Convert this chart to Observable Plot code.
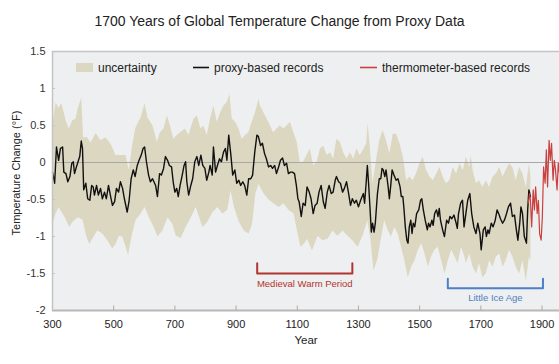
<!DOCTYPE html>
<html><head><meta charset="utf-8">
<script src="https://cdn.jsdelivr.net/npm/d3@7"></script>
<script src="https://cdn.jsdelivr.net/npm/@observablehq/plot@0.6"></script>
<style>
body{margin:0;background:#fff;font-family:"Liberation Sans",Arial,sans-serif;}
#title{height:27px;padding-top:13px;line-height:16px;text-align:center;font-size:14px;color:#222;box-sizing:content-box;}
#chart svg{display:block;}
</style></head><body>
<div id="title">1700 Years of Global Temperature Change from Proxy Data</div>
<div id="chart"></div>
<script>
const xTicks = [300, 500, 700, 900, 1100, 1300, 1500, 1700, 1900];
const yTicks = [1.5, 1, 0.5, 0, -0.5, -1, -1.5, -2];

const proxyYears = [300,307,313,320,326,333,337,344,350,357,363,368,372,378,385,389,394,398,402,409,415,422,428,433,437,444,450,457,463,470,476,483,490,496,503,509,516,522,529,535,544,550,557,564,570,577,583,590,596,601,607,614,620,627,637,643,650,656,663,669,676,682,689,695,700,706,711,717,724,730,735,739,745,752,758,765,772,778,785,791,798,804,811,815,822,826,833,839,846,852,859,865,870,876,883,889,896,902,909,915,922,928,935,941,948,954,961,968,973,980,986,993,999,1006,1013,1019,1026,1032,1039,1045,1052,1058,1065,1071,1078,1084,1091,1097,1102,1106,1113,1119,1126,1132,1139,1145,1152,1158,1165,1171,1178,1185,1191,1198,1204,1211,1217,1224,1228,1235,1241,1248,1254,1261,1267,1274,1280,1287,1293,1300,1307,1312,1316,1320,1325,1329,1333,1338,1342,1346,1351,1355,1362,1368,1373,1377,1381,1386,1390,1397,1401,1405,1410,1416,1423,1429,1436,1440,1445,1449,1453,1458,1462,1466,1471,1475,1479,1484,1490,1497,1503,1507,1512,1518,1525,1529,1534,1540,1544,1549,1555,1560,1564,1568,1575,1581,1588,1594,1599,1605,1612,1618,1623,1627,1634,1640,1645,1651,1657,1664,1670,1677,1684,1690,1697,1701,1708,1714,1718,1723,1727,1734,1740,1747,1753,1760,1764,1771,1777,1784,1790,1797,1803,1810,1816,1821,1827,1831,1836,1842,1849,1853,1857,1862];
const proxyValues = [-0.13,-0.28,0.21,0.03,0.19,0.21,-0.13,-0.15,-0.26,-0.19,-0.01,0.01,-0.15,-0.06,0.03,0.08,0.29,0.19,-0.37,-0.28,-0.49,-0.51,-0.31,-0.33,-0.44,-0.31,-0.44,-0.35,-0.49,-0.40,-0.49,-0.31,-0.46,-0.58,-0.53,-0.35,-0.40,-0.26,-0.35,-0.49,-0.67,-0.53,-0.22,-0.10,-0.19,-0.04,0.03,0.10,0.19,0.21,0.01,-0.17,-0.26,-0.22,-0.31,-0.46,-0.15,-0.17,-0.08,0.08,0.03,-0.04,-0.06,-0.28,-0.40,-0.35,-0.46,-0.31,-0.17,-0.04,0.01,-0.26,-0.44,-0.31,-0.22,0.01,0.08,-0.04,0.10,-0.04,-0.08,-0.24,-0.13,-0.04,-0.17,0.21,-0.13,-0.04,0.05,0.01,0.14,0.19,0.03,0.37,0.10,-0.17,-0.10,-0.28,-0.24,-0.31,-0.26,-0.31,-0.44,-0.22,-0.22,-0.17,0.14,0.37,0.35,0.23,0.26,0.12,0.05,-0.06,-0.04,-0.08,-0.04,-0.15,-0.06,0.03,0.06,-0.04,-0.01,-0.15,-0.13,-0.13,-0.15,-0.31,-0.49,-0.53,-0.73,-0.55,-0.58,-0.33,-0.40,-0.49,-0.69,-0.58,-0.55,-0.40,-0.31,-0.53,-0.62,-0.40,-0.31,-0.42,-0.40,-0.24,-0.19,-0.26,-0.28,-0.40,-0.35,-0.26,-0.40,-0.58,-0.49,-0.55,-0.51,-0.60,-0.51,-0.46,-0.42,-0.55,-0.28,-0.04,-0.28,-0.64,-0.94,-0.82,-0.94,-0.82,-0.42,-0.22,-0.22,-0.08,-0.10,-0.19,-0.10,-0.33,-0.49,-0.33,-0.10,-0.17,-0.24,-0.22,-0.33,-0.46,-0.46,-0.64,-0.87,-1.05,-1.09,-0.87,-0.78,-0.96,-0.82,-0.87,-0.69,-0.64,-0.51,-0.49,-0.64,-0.78,-0.91,-0.82,-0.87,-0.78,-0.85,-0.69,-0.64,-0.73,-0.62,-0.78,-0.91,-1.00,-0.78,-0.82,-0.73,-0.76,-0.71,-0.80,-0.89,-0.69,-0.55,-0.51,-0.87,-0.69,-0.51,-0.42,-0.69,-0.87,-0.96,-0.82,-0.96,-1.18,-0.91,-0.87,-1.00,-0.91,-0.96,-0.82,-0.87,-0.78,-0.64,-0.71,-0.76,-0.82,-0.78,-0.69,-0.60,-0.55,-0.73,-0.71,-0.91,-1.05,-0.82,-0.60,-0.69,-1.00,-1.09,-0.64,-0.37,-0.46];

const upperYears = [300,310,320,329,343,353,365,375,383,394,400,413,424,441,457,473,490,506,522,539,549,561,571,588,601,610,627,641,651,663,674,684,695,706,717,733,744,761,772,783,793,804,815,826,837,848,859,870,878,886,897,908,918,929,940,951,962,973,978,989,1000,1011,1021,1032,1043,1054,1065,1076,1087,1098,1108,1119,1130,1141,1152,1163,1174,1185,1196,1207,1217,1228,1239,1250,1261,1272,1283,1293,1304,1314,1325,1330,1336,1346,1357,1368,1379,1390,1401,1412,1423,1434,1445,1456,1466,1477,1488,1499,1510,1521,1532,1543,1554,1565,1575,1586,1597,1608,1619,1630,1641,1651,1662,1667,1673,1684,1694,1705,1716,1727,1738,1749,1760,1771,1781,1792,1803,1814,1825,1836,1847,1857,1862];
const upperValues = [0.53,0.81,0.74,0.8,0.57,0.46,0.57,0.59,0.74,0.88,0.34,0.34,0.27,0.4,0.3,0.34,0.25,0.1,0.1,0.1,-0.1,0.25,0.47,0.61,0.8,0.61,0.5,0.28,0.41,0.46,0.64,0.5,0.32,0.37,0.41,0.46,0.37,0.59,0.64,0.46,0.5,0.37,0.59,0.77,0.55,0.68,0.77,0.82,0.93,0.59,0.55,0.46,0.32,0.37,0.41,0.55,0.68,0.86,0.77,0.68,0.59,0.5,0.41,0.46,0.5,0.46,0.5,0.55,0.41,0.28,0.01,0.01,0.1,0.19,-0.04,0.01,0.19,0.23,0.1,0.14,0.05,0.32,0.28,0.14,0.05,0.14,0.05,0.19,0.1,0.17,0.26,0.53,0.26,-0.28,0.03,0.3,0.44,0.3,0.12,0.39,0.39,0.26,0.08,-0.24,-0.19,-0.24,-0.15,-0.01,0.08,-0.1,-0.19,-0.24,-0.15,-0.06,-0.19,-0.28,-0.24,-0.06,-0.15,-0.01,-0.1,0.08,-0.06,0.1,-0.1,-0.28,-0.24,-0.33,-0.24,-0.33,-0.19,-0.15,-0.06,-0.19,-0.1,-0.01,-0.06,-0.24,-0.06,-0.15,-0.33,-0.01,-0.19];

const lowerYears = [300,310,320,340,355,365,382,398,410,420,430,446,463,479,495,506,517,528,539,547,558,571,588,601,615,631,643,659,676,692,703,719,735,752,768,790,806,823,839,855,871,882,893,909,925,941,952,963,973,990,1006,1022,1039,1055,1071,1088,1099,1110,1121,1132,1148,1166,1182,1199,1215,1231,1248,1264,1280,1297,1313,1329,1339,1349,1362,1372,1384,1395,1406,1417,1428,1439,1450,1461,1472,1483,1494,1505,1516,1527,1537,1548,1559,1570,1581,1592,1603,1614,1624,1635,1646,1651,1662,1673,1684,1694,1705,1716,1727,1738,1749,1760,1771,1781,1792,1803,1814,1825,1836,1847,1857,1862];
const lowerValues = [-0.83,-0.69,-0.6,-0.74,-0.87,-0.8,-0.74,-0.77,-0.99,-1.1,-1.03,-0.92,-0.96,-1.05,-1.16,-1.1,-0.99,-1.0,-1.14,-1.25,-1.0,-0.78,-0.69,-0.6,-0.74,-0.87,-1.0,-0.92,-0.74,-0.83,-0.99,-1.02,-0.87,-0.74,-0.6,-0.87,-0.8,-0.67,-0.6,-0.69,-0.64,-0.38,-0.6,-0.8,-0.92,-0.96,-0.83,-0.42,-0.29,-0.42,-0.5,-0.55,-0.6,-0.55,-0.64,-0.69,-0.92,-1.14,-1.1,-1.03,-1.19,-0.99,-1.05,-1.03,-0.92,-0.99,-0.92,-0.99,-1.05,-1.14,-0.99,-0.78,-1.03,-1.46,-1.3,-1.05,-0.78,-0.91,-1.0,-0.87,-0.96,-1.14,-1.32,-1.55,-1.41,-1.32,-1.18,-1.09,-1.23,-1.41,-1.27,-1.18,-1.14,-1.32,-1.5,-1.32,-1.18,-1.27,-1.36,-1.14,-1.27,-1.36,-1.23,-1.41,-1.5,-1.36,-1.55,-1.5,-1.32,-1.41,-1.27,-1.23,-1.41,-1.32,-1.18,-1.27,-1.41,-1.5,-1.32,-1.6,-1.27,-1.32];

const thermoYears = [1855,1859,1862,1866,1871,1875,1879,1884,1888,1892,1897,1901,1905,1910,1914,1918,1923,1927,1931,1936,1940,1944,1949,1953,1957];
const thermoValues = [-0.55,-0.42,-0.51,-0.87,-0.37,-0.64,-0.33,-0.69,-0.51,-0.96,-1.05,-0.73,-0.06,-0.28,0.17,-0.33,0.30,0.03,0.26,-0.24,0.03,-0.10,-0.37,-0.01,-0.15];

const periodNames = ["Medieval Warm Period", "Little Ice Age"];
const periodStart = [969, 1592];
const periodEnd = [1280, 1903];
const periodTop = [-1.36, -1.57];
const periodBottom = [-1.5, -1.7];
const periodLabelLevel = [-1.64, -1.83];
const periodColors = ["#b0352f", "#4d80c6"];

const proxy = proxyYears.map((y, i) => ({year: y, value: proxyValues[i]}));
const thermo = thermoYears.map((y, i) => ({year: y, value: thermoValues[i]}));
const band = [
  ...upperYears.map((y, i) => ({year: y, value: upperValues[i]})),
  ...lowerYears.map((y, i) => ({year: y, value: lowerValues[i]})).reverse()
];
const brackets = periodNames.flatMap((n, i) => [
  {name: n, year: periodStart[i], value: periodTop[i]},
  {name: n, year: periodStart[i], value: periodBottom[i]},
  {name: n, year: periodEnd[i], value: periodBottom[i]},
  {name: n, year: periodEnd[i], value: periodTop[i]}
]);
const periodLabels = periodNames.map((n, i) => ({name: n, year: (periodStart[i] + periodEnd[i]) / 2, value: periodLabelLevel[i]}));

const plot = Plot.plot({
  width: 559, height: 324,
  marginTop: 11, marginBottom: 54, marginLeft: 52, marginRight: 0,
  style: {fontFamily: "Liberation Sans, Arial, sans-serif", background: "transparent"},
  x: {domain: [300, 1957]},
  y: {domain: [-2, 1.5]},
  color: {domain: periodNames, range: periodColors},
  marks: [
    Plot.frame({fill: "#eeeff0", stroke: null}),
    Plot.line(band, {x: "year", y: "value", fill: "#dcd7c1", stroke: "none", curve: "linear"}),
    Plot.ruleY([0], {stroke: "#a8a8a8", strokeWidth: 1}),
    Plot.line(proxy, {x: "year", y: "value", stroke: "#111", strokeWidth: 1.4}),
    Plot.line(thermo, {x: "year", y: "value", stroke: "#c8413e", strokeWidth: 1.2}),
    Plot.line(brackets, {x: "year", y: "value", z: "name", stroke: "name", strokeWidth: 2}),
    Plot.text(periodLabels, {x: "year", y: "value", text: "name", fill: "name", fontSize: 9.5}),
    Plot.ruleY([1.5], {stroke: "#c4c4c4", strokeWidth: 1.5}),
    Plot.ruleY([-2], {stroke: "#b8b8b8", strokeWidth: 2}),
    Plot.ruleX([300], {stroke: "#c4c4c4", strokeWidth: 1.5}),
    Plot.ruleX(xTicks.slice(1), {x: d => d, y1: -2, y2: -1.94, stroke: "#aaa"}),
    Plot.ruleY(yTicks.slice(1, -1), {y: d => d, x1: 300, x2: 310, stroke: "#c4c4c4"}),
    Plot.axisX({ticks: xTicks, tickSize: 0, tickPadding: 10, fontSize: 11, fill: "#222", label: null, tickFormat: d => String(d)}),
    Plot.axisY({ticks: yTicks, tickSize: 0, tickPadding: 7, fontSize: 11, fill: "#333", label: null, tickFormat: d => String(d)}),
    Plot.text(["Temperature Change (°F)"], {frameAnchor: "left", text: d => d, rotate: -90, textAnchor: "middle", dx: -36, dy: -8, fontSize: 11, fill: "#222"}),
    Plot.text(["Year"], {frameAnchor: "bottom", text: d => d, dy: 33, fontSize: 11.5, fill: "#222"})
  ]
});
document.getElementById("chart").appendChild(plot);

const svg = d3.select(plot);
const lg = svg.append("g").attr("font-size", 12).attr("fill", "#222").attr("text-anchor", "start").attr("font-family", "Liberation Sans, Arial, sans-serif");
lg.append("rect").attr("x", 76).attr("y", 23).attr("width", 17).attr("height", 9).attr("fill", "#dcd7c1");
lg.append("text").attr("x", 98).attr("y", 31.5).text("uncertainty");
lg.append("line").attr("x1", 193).attr("x2", 209).attr("y1", 27.5).attr("y2", 27.5).attr("stroke", "#111").attr("stroke-width", 1.6);
lg.append("text").attr("x", 214).attr("y", 31.5).text("proxy-based records");
lg.append("line").attr("x1", 360).attr("x2", 377).attr("y1", 27.5).attr("y2", 27.5).attr("stroke", "#c8413e").attr("stroke-width", 1.6);
lg.append("text").attr("x", 382).attr("y", 31.5).text("thermometer-based records");
</script></body></html>
